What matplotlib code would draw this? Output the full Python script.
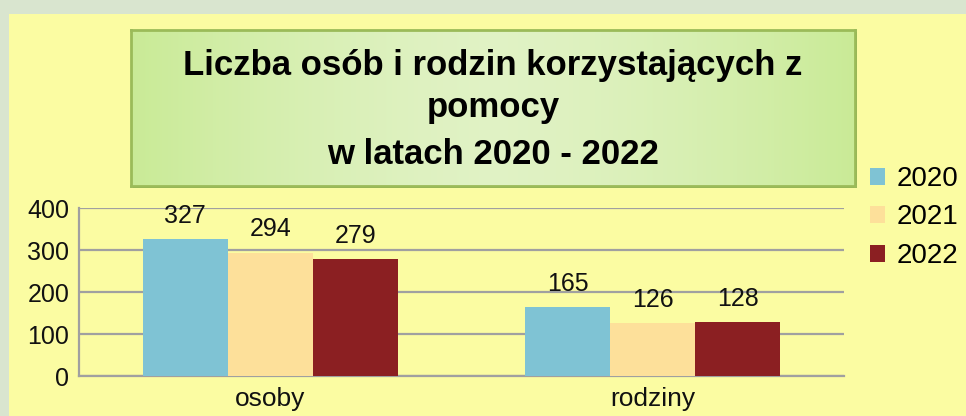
import matplotlib

matplotlib.use("Agg")
import matplotlib.pyplot as plt
import numpy as np
from matplotlib.patches import Rectangle

plt.rcParams["font.family"] = ["Liberation Sans", "DejaVu Sans"]

categories = ["osoby", "rodziny"]
years = ["2020", "2021", "2022"]
values = {
    "2020": [327, 165],
    "2021": [294, 126],
    "2022": [279, 128],
}
colors = {"2020": "#7fc3d4", "2021": "#fde09a", "2022": "#8b1f22"}
title_lines = ["Liczba osób i rodzin korzystających z", "pomocy", "w latach 2020 - 2022"]
yticks = [0, 100, 200, 300, 400]

W, H = 966, 416
fig = plt.figure(figsize=(W / 100, H / 100), dpi=100, facecolor="#d9e5cf")

# yellow panel (behind everything)
fig.patches.append(Rectangle((9 / W, 0), 1, 1 - 14 / H, transform=fig.transFigure,
                             facecolor="#fbfca2", edgecolor="none", zorder=-5))

ax = fig.add_axes([79 / W, 40 / H, 765 / W, 168 / H])
ax.set_facecolor("none")
x = np.arange(len(categories))
bw = 0.222
for i, yr in enumerate(years):
    bars = ax.bar(x + (i - 1) * bw, values[yr], bw, color=colors[yr], label=yr, zorder=3)
    for b, v in zip(bars, values[yr]):
        ax.annotate(str(v), (b.get_x() + b.get_width() / 2, v), xytext=(0, 8),
                    textcoords="offset points", ha="center", va="bottom",
                    fontsize=18, color="#111111")

ax.set_xlim(-0.5, 1.5)
ax.set_ylim(0, 400)
ax.set_yticks(yticks)
ax.set_xticks(x)
ax.set_xticklabels(categories)
ax.tick_params(axis="y", length=0, labelsize=18, colors="#111111", pad=7)
ax.tick_params(axis="x", length=0, labelsize=19, colors="#111111", pad=8)
ax.yaxis.grid(True, color="#a0a0a0", lw=1.6, zorder=1)
for s in ["top", "right"]:
    ax.spines[s].set_visible(False)
for s in ["left", "bottom"]:
    ax.spines[s].set_color("#a0a0a0")
    ax.spines[s].set_linewidth(1.6)

fig.legend(loc="upper left", bbox_to_anchor=(870 / W, 1 - 166 / H), frameon=False,
           fontsize=20, handlelength=0.55, handleheight=0.55, handletextpad=0.4,
           labelspacing=0.45, borderpad=0, borderaxespad=0)

# shadow line under the title box
fig.patches.append(Rectangle((133 / W, 1 - 188 / H), 724 / W, 156 / H,
                             transform=fig.transFigure, facecolor="#7f9c45",
                             edgecolor="none", zorder=1))

# title box with a soft green gradient
tax = fig.add_axes([131 / W, 1 - 186 / H, 724 / W, 156 / H])
tax.set_zorder(2)
grad = np.linspace(-1, 1, 256)
grad = 1 - np.abs(grad) ** 1.5
c_edge = np.array([0.79, 0.92, 0.59])
c_mid = np.array([0.88, 0.95, 0.77])
img = c_edge[None, None, :] + (c_mid - c_edge)[None, None, :] * grad[None, :, None]
tax.imshow(img, aspect="auto", extent=[0, 1, 0, 1])
tax.set_xlim(0, 1)
tax.set_ylim(0, 1)
tax.set_xticks([])
tax.set_yticks([])
for s in tax.spines.values():
    s.set_color("#9bbb59")
    s.set_linewidth(2)
for ln, yy in zip(title_lines, [0.775, 0.5, 0.2]):
    tax.text(0.5, yy, ln, ha="center", va="center", fontsize=25,
             fontweight="bold", color="black")

fig.savefig("out.png", dpi=100, facecolor=fig.get_facecolor())
